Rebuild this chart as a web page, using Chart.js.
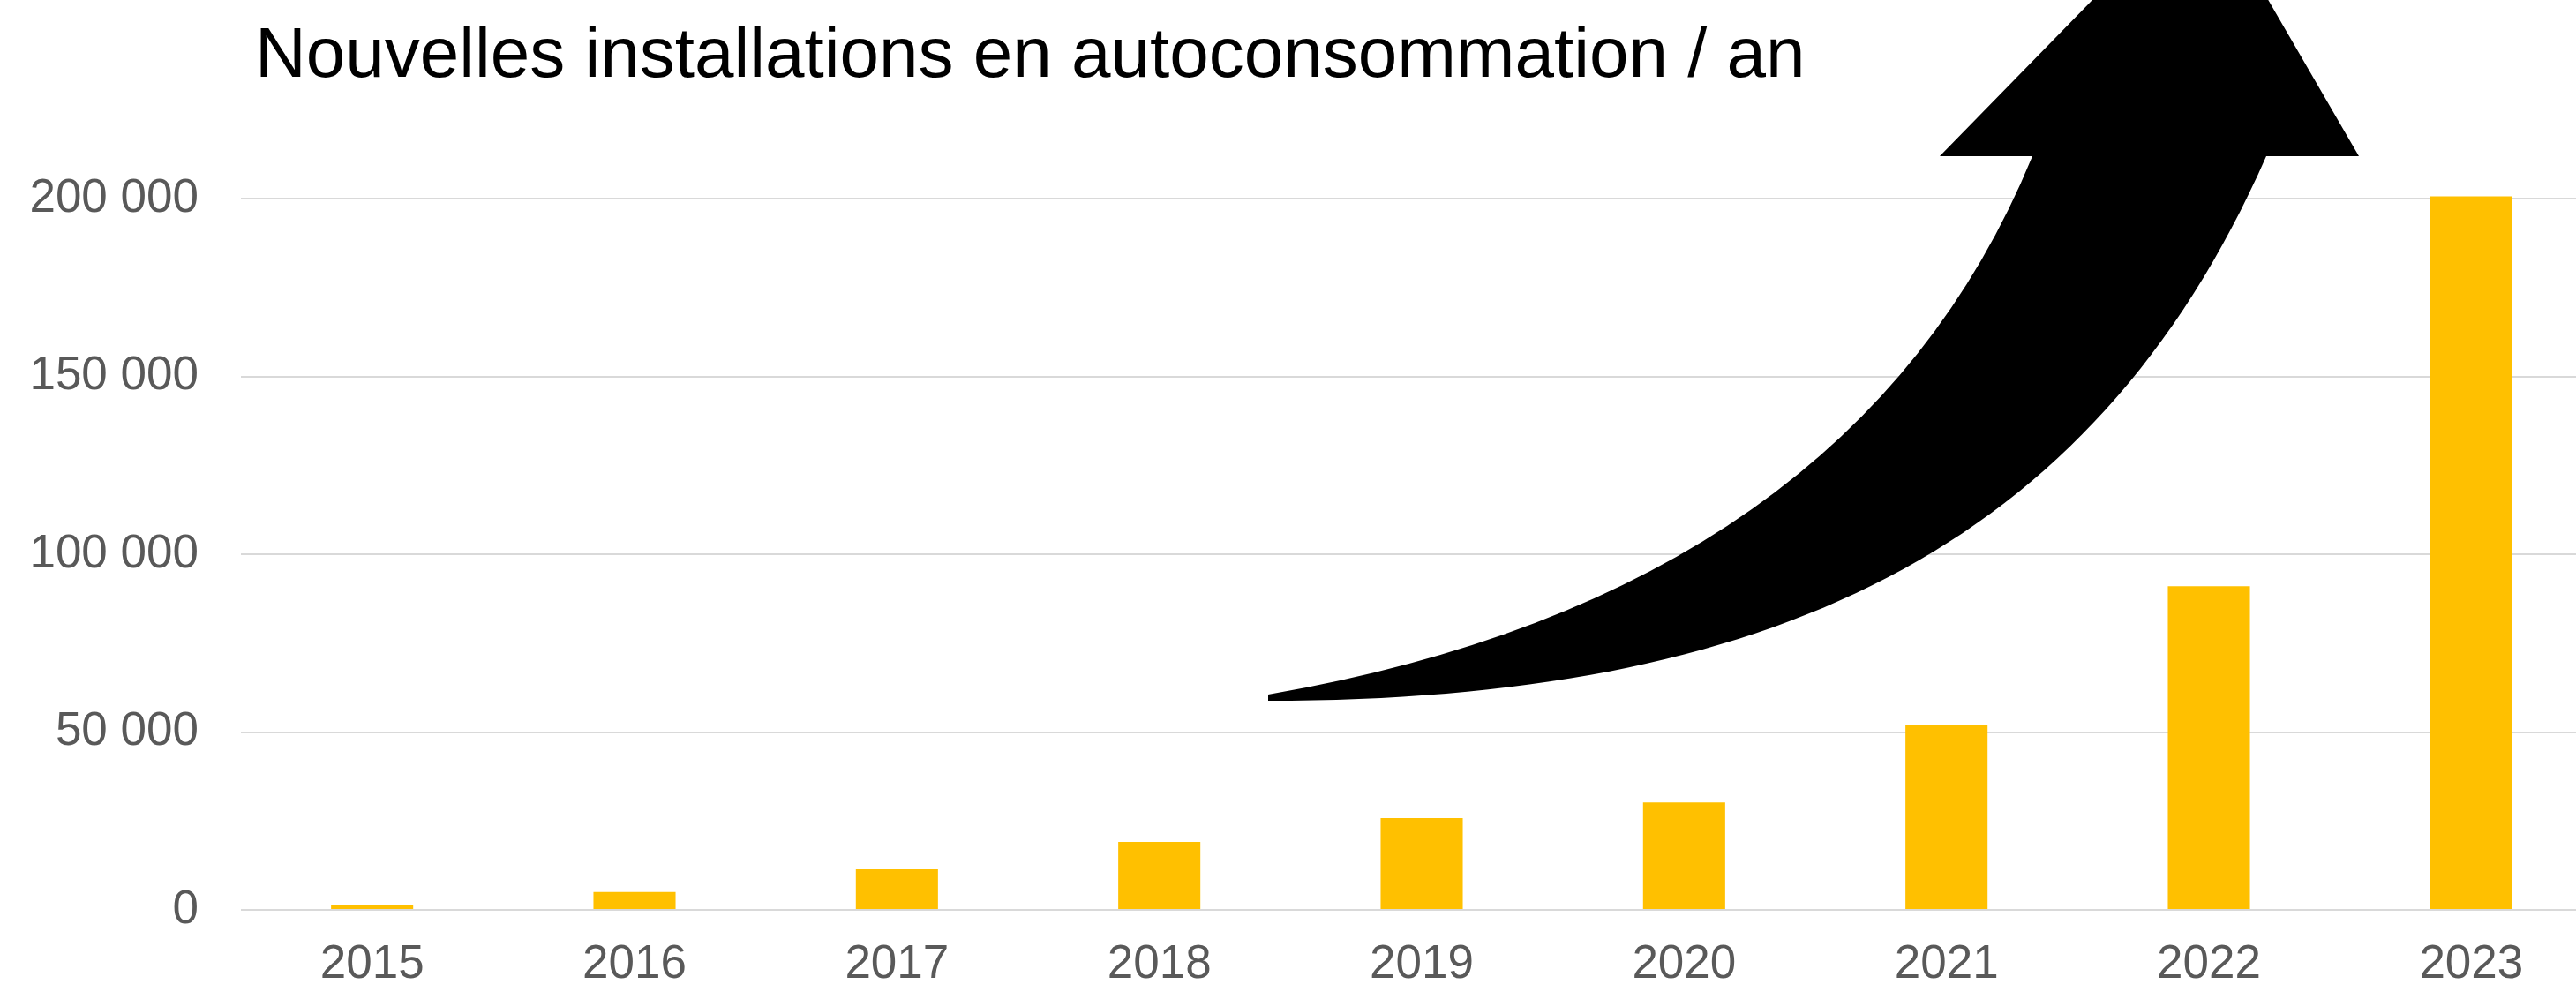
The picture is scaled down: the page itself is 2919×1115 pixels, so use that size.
<!DOCTYPE html>
<html>
<head>
<meta charset="utf-8">
<script src="https://cdn.jsdelivr.net/npm/chart.js@4.4.1/dist/chart.umd.min.js"></script>
<style>
  html, body { margin: 0; padding: 0; background: #ffffff; overflow: hidden; }
  #wrap { width: 2949px; height: 1115px; position: relative; }
</style>
</head>
<body>
<div id="wrap"><canvas id="c" width="2949" height="1115"></canvas></div>
<script>
const titleText = 'Nouvelles installations en autoconsommation / an';
const categories = ['2015', '2016', '2017', '2018', '2019', '2020', '2021', '2022', '2023'];
const installations = [1500, 5000, 11400, 19100, 25800, 30200, 52100, 91000, 200600];
const yTickValues = [0, 50000, 100000, 150000, 200000];
const yTickLabels = ['0', '50 000', '100 000', '150 000', '200 000'];

const decorPlugin = {
  id: 'decor',
  afterDraw(chart) {
    const ctx = chart.ctx;
    ctx.save();
    // decorative curved arrow
    ctx.fillStyle = '#000000';
    ctx.beginPath();
    ctx.moveTo(1437, 787);
    ctx.quadraticCurveTo(2100, 672, 2303, 177);
    ctx.lineTo(2198, 177);
    ctx.lineTo(2496, -128);
    ctx.lineTo(2673, 177);
    ctx.lineTo(2568, 177);
    ctx.bezierCurveTo(2370, 627, 2000, 794, 1437, 794);
    ctx.closePath();
    ctx.fill();
    // title
    ctx.font = '80px "Liberation Sans", Arial, sans-serif';
    ctx.textBaseline = 'alphabetic';
    ctx.textAlign = 'left';
    ctx.fillStyle = '#000000';
    ctx.fillText(titleText, 289, 87);
    ctx.restore();
  }
};

new Chart(document.getElementById('c'), {
  type: 'bar',
  data: {
    labels: categories,
    datasets: [{
      data: installations,
      backgroundColor: '#FFC000',
      borderWidth: 0,
      barPercentage: 0.313,
      categoryPercentage: 1.0,
      clip: false
    }]
  },
  options: {
    responsive: false,
    animation: false,
    devicePixelRatio: 1,
    layout: { padding: { top: 225, left: 0, right: 0, bottom: 0 } },
    plugins: { legend: { display: false }, tooltip: { enabled: false }, title: { display: false } },
    scales: {
      x: {
        offset: true,
        grid: { display: false, drawTicks: false },
        border: { display: false },
        ticks: {
          color: '#595959',
          font: { family: '"Liberation Sans", Arial, sans-serif', size: 53 },
          padding: 31,
          maxRotation: 0,
          autoSkip: false
        },
        afterFit(scale) { scale.height = 84; }
      },
      y: {
        min: 0,
        max: 200000,
        afterBuildTicks(scale) { scale.ticks = yTickValues.map(v => ({ value: v })); },
        grid: { color: '#D9D9D9', lineWidth: 2, drawTicks: false },
        border: { display: false },
        ticks: {
          color: '#595959',
          font: { family: '"Liberation Sans", Arial, sans-serif', size: 53 },
          padding: 48,
          callback(v) { const i = yTickValues.indexOf(v); return i >= 0 ? yTickLabels[i] : ''; }
        },
        afterFit(scale) { scale.width = 273; }
      }
    }
  },
  plugins: [decorPlugin]
});
</script>
</body>
</html>
